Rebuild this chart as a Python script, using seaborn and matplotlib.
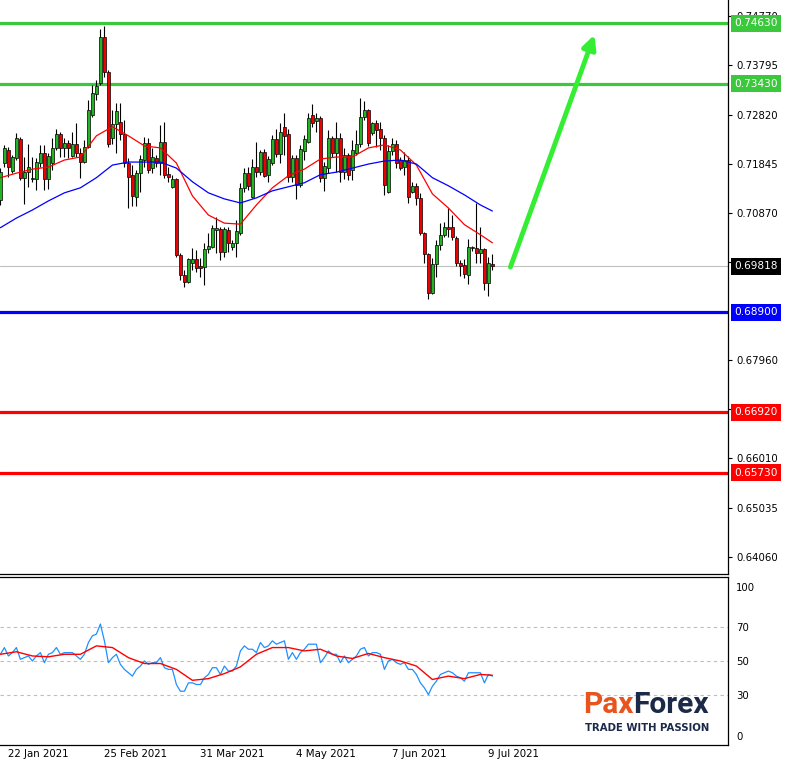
import numpy as np
import pandas as pd
import seaborn as sns
import matplotlib.pyplot as plt
import matplotlib.transforms as mtransforms

# daily candles, 21 Jan 2021 .. 12 Jul 2021
opens = [0.7113, 0.7186, 0.7212, 0.7170, 0.7196, 0.7234, 0.7157, 0.7168, 0.7155, 0.7155,
         0.7186, 0.7206, 0.7155, 0.7186, 0.7216, 0.7244, 0.7216, 0.7226, 0.7200, 0.7224,
         0.7206, 0.7188, 0.7218, 0.7281, 0.7323, 0.7345, 0.7436, 0.7366, 0.7236, 0.7263,
         0.7267, 0.7244, 0.7186, 0.7162, 0.7119, 0.7166, 0.7192, 0.7226, 0.7176, 0.7196,
         0.7186, 0.7228, 0.7164, 0.7139, 0.7155, 0.7004, 0.6964, 0.6951, 0.6988, 0.6996,
         0.6982, 0.6980, 0.7016, 0.7020, 0.7054, 0.7056, 0.7010, 0.7054, 0.7020, 0.7028,
         0.7048, 0.7137, 0.7166, 0.7119, 0.7178, 0.7168, 0.7208, 0.7162, 0.7186, 0.7234,
         0.7204, 0.7258, 0.7244, 0.7159, 0.7196, 0.7143, 0.7210, 0.7228, 0.7281, 0.7269,
         0.7275, 0.7157, 0.7176, 0.7236, 0.7206, 0.7236, 0.7168, 0.7202, 0.7172, 0.7206,
         0.7224, 0.7277, 0.7291, 0.7246, 0.7265, 0.7254, 0.7236, 0.7129, 0.7210, 0.7224,
         0.7192, 0.7178, 0.7192, 0.7129, 0.7141, 0.7117, 0.7048, 0.7006, 0.6929, 0.6986,
         0.7024, 0.7044, 0.7060, 0.7060, 0.7038, 0.6988, 0.6984, 0.6964, 0.7018, 0.7018,
         0.7008, 0.7016, 0.6949, 0.6986]
highs = [0.7176, 0.7222, 0.7218, 0.7202, 0.7246, 0.7238, 0.7198, 0.7224, 0.7198, 0.7196,
         0.7222, 0.7222, 0.7206, 0.7236, 0.7254, 0.7248, 0.7236, 0.7232, 0.7248, 0.7265,
         0.7216, 0.7232, 0.7311, 0.7341, 0.7351, 0.7452, 0.7458, 0.7370, 0.7291, 0.7305,
         0.7305, 0.7271, 0.7196, 0.7182, 0.7172, 0.7202, 0.7238, 0.7236, 0.7216, 0.7202,
         0.7261, 0.7267, 0.7178, 0.7162, 0.7157, 0.7008, 0.6974, 0.6998, 0.7018, 0.7014,
         0.6998, 0.7028, 0.7048, 0.7064, 0.7079, 0.7060, 0.7060, 0.7060, 0.7034, 0.7073,
         0.7147, 0.7176, 0.7178, 0.7194, 0.7228, 0.7212, 0.7214, 0.7200, 0.7242, 0.7254,
         0.7265, 0.7285, 0.7254, 0.7202, 0.7202, 0.7222, 0.7242, 0.7285, 0.7303, 0.7285,
         0.7279, 0.7188, 0.7252, 0.7240, 0.7267, 0.7246, 0.7216, 0.7206, 0.7232, 0.7252,
         0.7315, 0.7309, 0.7293, 0.7267, 0.7271, 0.7267, 0.7242, 0.7222, 0.7236, 0.7232,
         0.7198, 0.7208, 0.7200, 0.7149, 0.7147, 0.7127, 0.7050, 0.7008, 0.6998, 0.7034,
         0.7067, 0.7069, 0.7097, 0.7083, 0.7042, 0.6994, 0.6996, 0.7036, 0.7022, 0.7107,
         0.7060, 0.7018, 0.7000, 0.7006]
lows = [0.7103, 0.7178, 0.7159, 0.7166, 0.7192, 0.7153, 0.7105, 0.7139, 0.7149, 0.7133,
        0.7178, 0.7133, 0.7135, 0.7172, 0.7212, 0.7198, 0.7198, 0.7196, 0.7198, 0.7198,
        0.7157, 0.7186, 0.7216, 0.7277, 0.7311, 0.7341, 0.7357, 0.7218, 0.7224, 0.7206,
        0.7232, 0.7178, 0.7097, 0.7101, 0.7101, 0.7129, 0.7178, 0.7166, 0.7166, 0.7178,
        0.7162, 0.7157, 0.7149, 0.7137, 0.7000, 0.6955, 0.6941, 0.6949, 0.6974, 0.6970,
        0.6960, 0.6945, 0.7008, 0.7018, 0.7008, 0.6994, 0.7000, 0.7010, 0.7014, 0.7000,
        0.7044, 0.7129, 0.7133, 0.7117, 0.7159, 0.7162, 0.7159, 0.7149, 0.7182, 0.7198,
        0.7186, 0.7202, 0.7149, 0.7149, 0.7115, 0.7139, 0.7192, 0.7226, 0.7258, 0.7248,
        0.7149, 0.7131, 0.7166, 0.7198, 0.7168, 0.7149, 0.7155, 0.7153, 0.7153, 0.7202,
        0.7218, 0.7271, 0.7220, 0.7242, 0.7218, 0.7212, 0.7123, 0.7127, 0.7202, 0.7176,
        0.7172, 0.7162, 0.7107, 0.7127, 0.7103, 0.7044, 0.6988, 0.6917, 0.6927, 0.6961,
        0.7014, 0.7040, 0.7040, 0.7034, 0.6982, 0.6963, 0.6958, 0.6947, 0.7012, 0.6988,
        0.6988, 0.6935, 0.6923, 0.6974]
closes = [0.7168, 0.7216, 0.7178, 0.7198, 0.7236, 0.7157, 0.7168, 0.7178, 0.7156, 0.7188,
          0.7206, 0.7155, 0.7200, 0.7216, 0.7244, 0.7216, 0.7226, 0.7216, 0.7224, 0.7206,
          0.7188, 0.7218, 0.7291, 0.7325, 0.7339, 0.7436, 0.7366, 0.7224, 0.7263, 0.7289,
          0.7244, 0.7186, 0.7159, 0.7121, 0.7166, 0.7194, 0.7226, 0.7172, 0.7198, 0.7186,
          0.7228, 0.7162, 0.7159, 0.7155, 0.7004, 0.6964, 0.6951, 0.6996, 0.6996, 0.6978,
          0.6978, 0.7016, 0.7022, 0.7058, 0.7058, 0.7010, 0.7056, 0.7028, 0.7028, 0.7052,
          0.7137, 0.7166, 0.7141, 0.7178, 0.7168, 0.7208, 0.7160, 0.7194, 0.7234, 0.7204,
          0.7248, 0.7240, 0.7159, 0.7196, 0.7143, 0.7214, 0.7234, 0.7275, 0.7265, 0.7275,
          0.7157, 0.7180, 0.7236, 0.7206, 0.7236, 0.7168, 0.7202, 0.7162, 0.7212, 0.7224,
          0.7277, 0.7291, 0.7226, 0.7265, 0.7252, 0.7236, 0.7143, 0.7210, 0.7224, 0.7186,
          0.7176, 0.7192, 0.7119, 0.7141, 0.7117, 0.7048, 0.7006, 0.6929, 0.6986, 0.7024,
          0.7044, 0.7060, 0.7056, 0.7040, 0.6988, 0.6982, 0.6966, 0.7020, 0.7019, 0.7008,
          0.7016, 0.6949, 0.6988, 0.6982]

# moving averages, read every 4th bar
ma_bars = list(range(0, 124, 4)) + [123]
ma_fast = [0.7157, 0.7166, 0.7174, 0.7178, 0.7192, 0.7198, 0.7240, 0.7258, 0.7240, 0.7220,
           0.7216, 0.7186, 0.7121, 0.7083, 0.7067, 0.7065, 0.7103, 0.7137, 0.7161, 0.7174,
           0.7194, 0.7198, 0.7198, 0.7216, 0.7222, 0.7212, 0.7182, 0.7125, 0.7097, 0.7064,
           0.7044, 0.7028]
ma_slow = [0.7058, 0.7077, 0.7093, 0.7111, 0.7127, 0.7137, 0.7157, 0.7182, 0.7188, 0.7188,
           0.7188, 0.7176, 0.7149, 0.7127, 0.7115, 0.7107, 0.7117, 0.7131, 0.7139, 0.7147,
           0.7163, 0.7168, 0.7176, 0.7184, 0.7190, 0.7192, 0.7184, 0.7157, 0.7141, 0.7123,
           0.7103, 0.7091]

# RSI and its signal line
rsi = [54, 58, 53, 55, 58, 51, 52, 53, 50, 53, 55, 49, 54, 55, 58, 54, 55, 55, 55, 53,
       51, 54, 61, 65, 66, 72, 62, 49, 52, 54, 48, 45, 43, 41, 45, 47, 50, 48, 49, 49,
       52, 46, 45, 45, 36, 32, 32, 37, 37, 36, 36, 40, 42, 46, 46, 42, 47, 44, 44, 47,
       56, 59, 57, 57, 55, 61, 58, 59, 62, 60, 61, 62, 51, 55, 51, 55, 57, 60, 60, 60,
       49, 52, 56, 54, 54, 49, 53, 49, 51, 53, 57, 58, 53, 55, 55, 54, 45, 50, 51, 49,
       48, 49, 45, 45, 42, 37, 34, 30, 35, 38, 42, 43, 44, 43, 41, 40, 38, 43, 43, 43,
       43, 37, 42, 41]
rsi_signal = [54, 55.5, 53, 52.5, 54, 54, 59, 58, 52, 48.5, 48.5, 45, 38.5, 39.5, 42.5, 46.5,
              54, 58, 58, 56, 57, 53, 51.5, 54.5, 52, 50, 47, 39, 41, 39.5, 42, 41.5]

levels = [0.7463, 0.7343, 0.6890, 0.6692, 0.6573]
level_colors = ["#3cc83c", "#3cc83c", "#0000ff", "#ff0000", "#ff0000"]
last_price = 0.69818

price_ticks = [0.7477, 0.73795, 0.7282, 0.71845, 0.7087, 0.69895, 0.6796,
               0.66985, 0.6601, 0.65035, 0.6406]
date_bars = [2, 26, 50, 74, 98, 122]
date_labels = ["22 Jan 2021", "25 Feb 2021", "31 Mar 2021", "4 May 2021", "7 Jun 2021", "9 Jul 2021"]

# forecast arrow (bar, price)
arrow_start = (127.5, 0.6980)
arrow_end = (148.5, 0.7440)

sns.set_style("white")
plt.rcParams["font.family"] = ["DejaVu Sans"]

df = pd.DataFrame({"open": opens, "high": highs, "low": lows, "close": closes})
df["bar"] = np.arange(len(df))
df["up"] = df["close"] >= df["open"]

W, H = 793, 762
fig = plt.figure(figsize=(W / 100, H / 100), dpi=100)
ax = fig.add_axes([0, 1 - 574 / H, 728 / W, 574 / H])
ax2 = fig.add_axes([0, 1 - 745 / H, 728 / W, (745 - 577) / H])

# level lines
for lv, c in zip(levels, level_colors):
    ax.axhline(lv, color=c, lw=2.3, zorder=1)
ax.axhline(last_price, color="#c0c0c0", lw=0.8, zorder=1)

# candles
ax.vlines(df["bar"], df["low"], df["high"], color="black", lw=0.8, zorder=3)
body_lo = np.minimum(df["open"], df["close"])
body_h = (df["close"] - df["open"]).abs().clip(lower=0.00003)
ax.bar(df["bar"], body_h, bottom=body_lo, width=0.75,
       color=np.where(df["up"], "#22b422", "#ee0000"),
       edgecolor="black", linewidth=0.5, zorder=4)

# moving averages
sns.lineplot(x=ma_bars, y=ma_fast, ax=ax, color="#ff0000", lw=0.9, zorder=5)
sns.lineplot(x=ma_bars, y=ma_slow, ax=ax, color="#0000ff", lw=0.9, zorder=5)

ax.annotate("", xy=arrow_end, xytext=arrow_start,
            arrowprops=dict(arrowstyle="-|>", color="#33ee33", lw=3.5,
                            mutation_scale=20, shrinkA=0, shrinkB=0), zorder=6)

ax.set_xlim(-0.1, 181.9)
ax.set_ylim(0.6372, 0.7509)
ax.set_xticks([])
ax.set_xlabel("")
ax.set_ylabel("")
ax.yaxis.tick_right()
ax.set_yticks(price_ticks)
ax.set_yticklabels([f"{t:.5f}" for t in price_ticks])
ax.tick_params(axis="y", length=3, width=0.8, pad=3, labelsize=7.3, colors="black")
for s in ["left", "top"]:
    ax.spines[s].set_visible(False)
for s in ["right", "bottom"]:
    ax.spines[s].set_color("black")
    ax.spines[s].set_linewidth(0.9)

# right-hand price tags
trans = mtransforms.blended_transform_factory(ax.transAxes, ax.transData)
tags = list(zip(levels, level_colors)) + [(last_price, "black")]
for lv, c in tags:
    ax.text(1.0 + 6 / 728, lv, f"{lv:.5f}", transform=trans, ha="left", va="center",
            fontsize=7.6, color="white", zorder=10, clip_on=False,
            bbox=dict(boxstyle="square,pad=0.32", fc=c, ec="none"))

# RSI panel
for lv in [70, 50, 30]:
    ax2.axhline(lv, color="#bdbdbd", lw=0.8, ls=(0, (3, 3)), zorder=1)
sns.lineplot(x=df["bar"], y=rsi, ax=ax2, color="#1e90ff", lw=0.9, zorder=3)
sns.lineplot(x=ma_bars, y=rsi_signal, ax=ax2, color="#ff0000", lw=1.0, zorder=4)
ax2.set_xlim(-0.1, 181.9)
ax2.set_ylim(0, 100)
ax2.set_xlabel("")
ax2.set_ylabel("")
ax2.yaxis.tick_right()
ax2.set_yticks([94, 70, 50, 30, 5.5])
ax2.set_yticklabels(["100", "70", "50", "30", "0"])
ax2.tick_params(axis="y", length=0, pad=6, labelsize=7.3, colors="black")
ax2.set_xticks(date_bars)
ax2.set_xticklabels(date_labels)
ax2.tick_params(axis="x", length=2.5, width=0.8, pad=0.5, labelsize=7.4, colors="black")
for lab in ax2.get_xticklabels():
    lab.set_horizontalalignment("left")
ax2.spines["left"].set_visible(False)
for s in ["right", "bottom", "top"]:
    ax2.spines[s].set_color("black")
    ax2.spines[s].set_linewidth(0.9)

# logo
t1 = fig.text(583 / W, 1 - 713 / H, "Pax", color="#e8541e", fontsize=21.5,
              fontweight="bold", family=["Liberation Sans Narrow", "Roboto"], va="baseline")
ax2.annotate("Forex", xy=(1, 0), xycoords=t1, va="bottom", ha="left",
             color="#1c2a4a", fontsize=21.5, fontweight="bold",
             family=["Liberation Sans Narrow", "Roboto"], annotation_clip=False)
fig.text(647 / W, 1 - 728 / H, "TRADE WITH PASSION", color="#1c2a4a", fontsize=7.3,
         fontweight="bold", ha="center", va="center")

fig.savefig("out.png", dpi=100)
